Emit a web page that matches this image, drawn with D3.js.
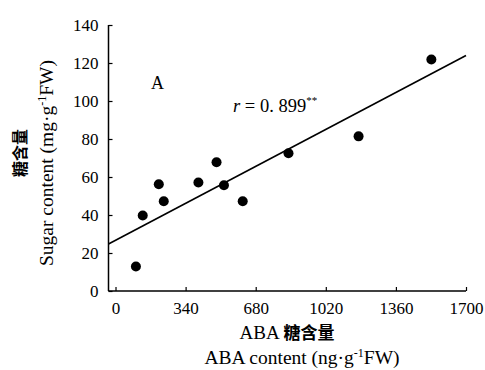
<!DOCTYPE html>
<html>
<head>
<meta charset="utf-8">
<script src="https://cdn.jsdelivr.net/npm/d3@7"></script>
<style>
  body { margin: 0; background: #fff; }
  text { font-family: "Liberation Serif", "DejaVu Serif", serif; fill: #000; }
  .cjk { font-family: "Noto Sans CJK SC", sans-serif; font-weight: bold; }
</style>
</head>
<body>
<div id="chart"></div>
<script>
// ABA content (ng/g FW) vs sugar content (mg/g FW)
const abaContent = [99, 132, 210, 234, 402, 490, 526, 617, 839, 1179, 1532];
const sugarContent = [12.9, 39.7, 56.2, 47.2, 57.1, 67.8, 55.7, 47.2, 72.5, 81.4, 121.8];
const xTicks = [0, 340, 680, 1020, 1360, 1700];
const yTicks = [0, 20, 40, 60, 80, 100, 120, 140];
// fitted line  y = a + b*x
const fitIntercept = 26.7;
const fitSlope = 0.0572;

let width = 485, height = 370;
let serif = "'Liberation Serif', 'DejaVu Serif', serif";

/** SVG */
let svg = d3.select("#chart")
  .append("svg")
  .attr("width", width)
  .attr("height", height);

/** SCALES */
let x = d3.scaleLinear().domain([-34, 1700]).range([108.5, 466]);
let y = d3.scaleLinear().domain([0, 140]).range([291, 25]);

/** AXES */
let xAxis = svg.append("g")
  .attr("transform", `translate(0,${y(0)})`)
  .call(d3.axisBottom(x).tickValues(xTicks).tickFormat(d3.format("d"))
    .tickSize(-4).tickPadding(11).tickSizeOuter(0));
let yAxis = svg.append("g")
  .attr("transform", `translate(${x.range()[0]},0)`)
  .call(d3.axisLeft(y).tickValues(yTicks).tickFormat(d3.format("d"))
    .tickSize(-4).tickPadding(10).tickSizeOuter(0));

[xAxis, yAxis].forEach(g => {
  g.attr("font-family", null);
  g.select(".domain").attr("stroke", "#000").attr("stroke-width", 1.5);
  g.selectAll(".tick line").attr("stroke", "#000").attr("stroke-width", 1.2);
  g.selectAll(".tick text")
    .style("font-family", serif)
    .style("font-size", "17px")
    .attr("fill", "#000");
});
// x-axis line starts at the y-axis
xAxis.select(".domain").attr("d", `M${x.range()[0]},0H${x.range()[1]}`);
yAxis.select(".domain").attr("d", `M0,${y(0)}V${y(140)}`);

/** FIT LINE */
let xd = x.domain();
svg.append("line")
  .attr("x1", x(xd[0]))
  .attr("y1", y(fitIntercept + fitSlope * xd[0]))
  .attr("x2", x(xd[1]))
  .attr("y2", y(fitIntercept + fitSlope * xd[1]))
  .attr("stroke", "#000")
  .attr("stroke-width", 1.6);

/** POINTS */
svg.append("g")
  .selectAll("circle")
  .data(abaContent.map((v, i) => [v, sugarContent[i]]))
  .enter()
  .append("circle")
  .attr("cx", d => x(d[0]))
  .attr("cy", d => y(d[1]))
  .attr("r", 5)
  .attr("fill", "#000");

/** ANNOTATIONS */
svg.append("text")
  .text("A")
  .attr("x", 151)
  .attr("y", 89)
  .attr("font-size", 18);

let rText = svg.append("text")
  .attr("x", 233)
  .attr("y", 112)
  .attr("font-size", 18.5);
rText.append("tspan").text("r").attr("font-style", "italic");
rText.append("tspan").text(" = 0. 899");
rText.append("tspan").text("**").attr("font-size", 11).attr("dy", -8);

/** AXIS TITLES */
let xt1 = svg.append("text")
  .attr("x", 287)
  .attr("y", 339)
  .attr("text-anchor", "middle")
  .attr("font-size", 19);
xt1.append("tspan").text("ABA ");
xt1.append("tspan").attr("class", "cjk").attr("font-size", 17).text("糖含量");

let xt2 = svg.append("text")
  .attr("x", 302)
  .attr("y", 364)
  .attr("text-anchor", "middle")
  .attr("font-size", 19.5);
xt2.append("tspan").text("ABA content (ng·g");
xt2.append("tspan").text("-1").attr("font-size", 12).attr("dy", -7);
xt2.append("tspan").text("FW)").attr("dy", 7);

let yt2 = svg.append("text")
  .attr("transform", "translate(53,163) rotate(-90)")
  .attr("text-anchor", "middle")
  .attr("font-size", 19.5);
yt2.append("tspan").text("Sugar content (mg·g");
yt2.append("tspan").text("-1").attr("font-size", 12).attr("dy", -7);
yt2.append("tspan").text("FW)").attr("dy", 7);

svg.append("text")
  .attr("class", "cjk")
  .attr("transform", "translate(26,153) rotate(-90)")
  .attr("text-anchor", "middle")
  .attr("font-size", 16)
  .text("糖含量");
</script>
</body>
</html>
